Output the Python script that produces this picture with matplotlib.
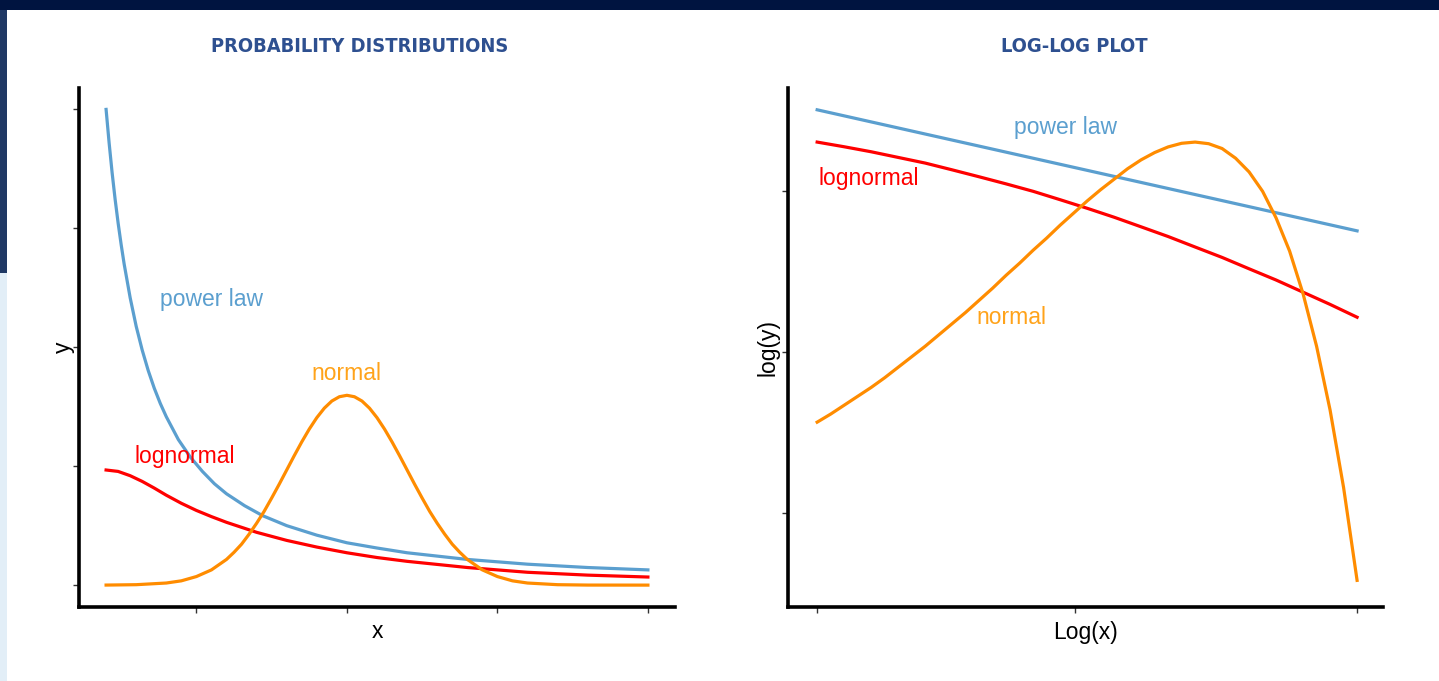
import numpy as np
import matplotlib.pyplot as plt
from matplotlib import font_manager
from matplotlib.patches import Rectangle

# left panel: values (x from 1 to 10)
pl_x = [1.0, 1.05, 1.1, 1.15, 1.2, 1.25, 1.3, 1.4, 1.5, 1.6, 1.7, 1.8, 1.9, 2.0, 2.2, 2.4, 2.6, 2.8,
        3.0, 3.3, 3.6, 4.0, 4.5, 5.0, 5.5, 6.0, 7.0, 8.0, 9.0, 10.0]
pl_y = [1.0, 0.93, 0.867, 0.811, 0.761, 0.716, 0.675, 0.604, 0.544, 0.494, 0.451, 0.414, 0.382, 0.354,
        0.306, 0.269, 0.239, 0.213, 0.192, 0.167, 0.146, 0.125, 0.105, 0.089, 0.078, 0.068, 0.054,
        0.044, 0.037, 0.032]

ln_x = [1.0, 1.2, 1.4, 1.6, 1.8, 2.0, 2.25, 2.5, 2.75, 3.0, 3.5, 4.0, 4.5, 5.0, 5.5, 6.0, 7.0, 8.0, 9.0, 10.0]
ln_y = [0.242, 0.239, 0.230, 0.218, 0.204, 0.189, 0.172, 0.157, 0.144, 0.132, 0.111, 0.094, 0.080,
        0.068, 0.058, 0.050, 0.037, 0.027, 0.021, 0.017]

nm_x = [1.0, 1.5, 2.0, 2.25, 2.5, 2.75, 3.0, 3.125, 3.25, 3.375, 3.5, 3.625, 3.75, 3.875, 4.0, 4.125,
        4.25, 4.375, 4.5, 4.625, 4.75, 4.875, 5.0, 5.125, 5.25, 5.375, 5.5, 5.625, 5.75, 5.875, 6.0,
        6.125, 6.25, 6.375, 6.5, 6.625, 6.75, 6.875, 7.0, 7.25, 7.5, 7.75, 8.0, 8.5, 9.0, 10.0]
nm_y = [0.0001, 0.0009, 0.0044, 0.009, 0.018, 0.032, 0.054, 0.069, 0.086, 0.107, 0.130, 0.155, 0.183,
        0.212, 0.242, 0.272, 0.301, 0.328, 0.352, 0.372, 0.387, 0.396, 0.399,
        0.396, 0.387, 0.372, 0.352, 0.328, 0.301, 0.272, 0.242, 0.212, 0.183, 0.155, 0.130,
        0.107, 0.086, 0.069, 0.054, 0.032, 0.018, 0.009, 0.0044, 0.0009, 0.0001, 0.0]

# right panel: log10 values
lx = [0.0, 0.05, 0.1, 0.15, 0.2, 0.25, 0.3, 0.35, 0.4, 0.45, 0.5, 0.55, 0.6, 0.65, 0.7, 0.75, 0.8,
      0.85, 0.9, 0.95, 1.0]
pl_ly = [0.0, -0.075, -0.15, -0.225, -0.30, -0.375, -0.45, -0.525, -0.60, -0.675, -0.75, -0.825,
         -0.90, -0.975, -1.05, -1.125, -1.20, -1.275, -1.35, -1.425, -1.50]
ln_ly = [-0.40, -0.458, -0.52, -0.59, -0.66, -0.744, -0.83, -0.918, -1.01, -1.114, -1.22, -1.331,
         -1.45, -1.57, -1.70, -1.829, -1.97, -2.109, -2.26, -2.411, -2.57]

nm_lx = [0.0, 0.025, 0.05, 0.075, 0.1, 0.125, 0.15, 0.175, 0.2, 0.225, 0.25, 0.275, 0.3, 0.325, 0.35,
         0.375, 0.4, 0.425, 0.45, 0.475, 0.5, 0.525, 0.55, 0.575, 0.6, 0.625, 0.65, 0.675, 0.7,
         0.725, 0.75, 0.775, 0.8, 0.825, 0.85, 0.875, 0.9, 0.925, 0.95, 0.975, 1.0]
nm_ly = [-3.87, -3.77, -3.66, -3.55, -3.44, -3.32, -3.19, -3.06, -2.93, -2.79, -2.65, -2.51, -2.36,
         -2.21, -2.05, -1.90, -1.74, -1.59, -1.43, -1.28, -1.13, -0.99, -0.86, -0.73, -0.62, -0.53,
         -0.46, -0.415, -0.40, -0.42, -0.48, -0.60, -0.77, -1.01, -1.34, -1.75, -2.28, -2.93, -3.72,
         -4.68, -5.83]

blue, red, orange = '#5b9fcf', '#ff0000', '#ff8c00'
title_col = '#2e5090'
lab_font = 'Liberation Sans'

# find a narrow bold face for the titles, if there is one
title_font = None
for f in font_manager.fontManager.ttflist:
    nm = (f.name + ' ' + f.fname).lower()
    if ('condensed' in nm or 'narrow' in nm) and f.weight in ('bold', 700):
        title_font = font_manager.FontProperties(fname=f.fname)
        break
if title_font is None:
    title_font = font_manager.FontProperties(family='DejaVu Sans', weight='bold')

fig = plt.figure(figsize=(14.39, 6.81), dpi=100)
fig.patch.set_facecolor('white')

# page decorations
W, H = 1439, 681
fig.add_artist(Rectangle((0, 1 - 10 / H), 1, 10 / H, transform=fig.transFigure, color='#001440', lw=0))
fig.add_artist(Rectangle((0, 1 - 273 / H), 7 / W, (273 - 10) / H, transform=fig.transFigure, color='#1f3864', lw=0))
fig.add_artist(Rectangle((0, 0), 7 / W, 1 - 273 / H, transform=fig.transFigure, color='#e2eef7', lw=0))

ax1 = fig.add_axes([79 / W, 1 - 607 / H, 596 / W, 519 / H])
ax2 = fig.add_axes([788 / W, 1 - 607 / H, 595 / W, 519 / H])

ax1.plot(pl_x, pl_y, color=blue, lw=2.3)
ax1.plot(ln_x, ln_y, color=red, lw=2.3)
ax1.plot(nm_x, nm_y, color=orange, lw=2.3)
ax1.set_xlim(0.55, 10.45)
ax1.set_ylim(-0.046, 1.045)
ax1.set_xticks([2.5, 5, 7.5, 10])
ax1.set_yticks([0, 0.25, 0.5, 0.75, 1.0])
ax1.text(2.75, 0.60, 'power law', color=blue, fontsize=16.5, family=lab_font, ha='center', va='center')
ax1.text(5.0, 0.445, 'normal', color='#ffa31a', fontsize=16.5, family=lab_font, ha='center', va='center')
ax1.text(2.3, 0.27, 'lognormal', color=red, fontsize=16.5, family=lab_font, ha='center', va='center')
ax1.set_xlabel('x', fontsize=16.5, family=lab_font, labelpad=5)
ax1.set_ylabel('y', fontsize=16.5, family=lab_font, labelpad=-1)

ax2.plot(lx, pl_ly, color=blue, lw=2.3)
ax2.plot(lx, ln_ly, color=red, lw=2.3)
ax2.plot(nm_lx, nm_ly, color=orange, lw=2.3)
ax2.set_xlim(-0.054, 1.048)
ax2.set_ylim(-6.16, 0.27)
ax2.set_xticks([0, np.log10(3), 1])
ax2.set_yticks([-5, -3, -1])
ax2.text(0.46, -0.22, 'power law', color=blue, fontsize=16.5, family=lab_font, ha='center', va='center')
ax2.text(0.095, -0.85, 'lognormal', color=red, fontsize=16.5, family=lab_font, ha='center', va='center')
ax2.text(0.36, -2.57, 'normal', color='#ffa31a', fontsize=16.5, family=lab_font, ha='center', va='center')
ax2.set_xlabel('Log(x)', fontsize=16.5, family=lab_font, labelpad=6)
ax2.set_ylabel('log(y)', fontsize=16.5, family=lab_font, labelpad=2)

for ax in (ax1, ax2):
    ax.spines['top'].set_visible(False)
    ax.spines['right'].set_visible(False)
    ax.spines['left'].set_linewidth(2.6)
    ax.spines['bottom'].set_linewidth(2.6)
    ax.tick_params(direction='out', length=4, width=1, color='#333333',
                   labelleft=False, labelbottom=False)

t1 = fig.text(360 / W, 1 - 46 / H, 'PROBABILITY DISTRIBUTIONS', color=title_col, fontsize=17,
              fontproperties=title_font, ha='center', va='center')
t2 = fig.text(1074 / W, 1 - 46 / H, 'LOG-LOG PLOT', color=title_col, fontsize=17,
              fontproperties=title_font, ha='center', va='center')

# size the titles so the long one is about 300 px wide
r = fig.canvas.get_renderer()
w = t1.get_window_extent(r).width
size = 17 * 300 / w
t1.set_fontsize(size)
t2.set_fontsize(size)

fig.savefig('out.png', dpi=100)
